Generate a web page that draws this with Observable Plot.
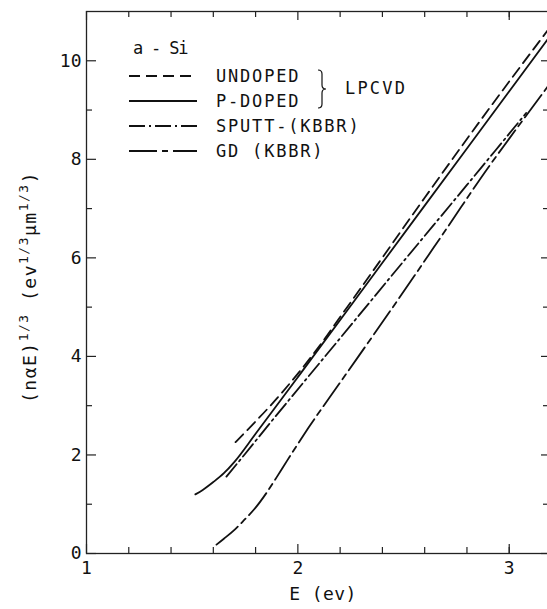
<!DOCTYPE html>
<html>
<head>
<meta charset="utf-8">
<script src="https://cdn.jsdelivr.net/npm/d3@7"></script>
<script src="https://cdn.jsdelivr.net/npm/@observablehq/plot@0.6"></script>
<style>
html, body { margin: 0; padding: 0; background: #fff; overflow: hidden; }
#chart svg { display: block; }
</style>
</head>
<body>
<div id="chart"></div>
<script>
// ---- data ----
const seriesNames = ["UNDOPED", "P-DOPED", "SPUTT-(KBBR)", "GD (KBBR)"];
const groupLabel = "LPCVD";
const materialLabel = "a - Si";

const eUndoped = [1.705, 1.80, 1.87, 2.0, 2.1, 2.2, 2.3, 2.6, 2.9, 3.2];
const vUndoped = [2.26, 2.68, 3.00, 3.65, 4.20, 4.80, 5.40, 7.22, 9.00, 10.72];

const ePdoped = [1.515, 1.55, 1.60, 1.65, 1.70, 1.80, 2.0, 2.4, 2.8, 3.2];
const vPdoped = [1.20, 1.29, 1.45, 1.63, 1.86, 2.43, 3.58, 5.90, 8.22, 10.54];

const eSputt = [1.662, 1.75, 1.85, 1.957, 2.2, 2.5, 2.8, 2.9, 3.0, 3.08];
const vSputt = [1.56, 2.02, 2.55, 3.11, 4.37, 5.93, 7.48, 8.00, 8.52, 8.94];

const eGd = [1.615, 1.65, 1.70, 1.744, 1.80, 1.85, 1.90, 1.95, 2.05, 2.2, 2.477, 2.7, 2.9, 3.0, 3.2];
const vGd = [0.18, 0.30, 0.48, 0.67, 0.93, 1.22, 1.55, 1.89, 2.55, 3.47, 5.17, 6.57, 7.83, 8.42, 9.58];

const xTickLabels = [1, 2, 3];
const xMinorTicks = [1.2, 1.4, 1.6, 1.8, 2.2, 2.4, 2.6, 2.8, 3.0];
const yTickLabels = [0, 2, 4, 6, 8, 10];
const yMinorTicks = [1, 3, 5, 7, 9];

// ---- styles ----
const dashes = ["11,6", null, "16,4,2,4", "28,5,6,5"];
const FONT = "'DejaVu Sans Mono', monospace";
const INK = "#111";

const W = 547, H = 609;
const mL = 86, mR = -4, mT = 11, mB = 56;
const plotW = W - mL - mR, plotH = H - mT - mB;

const series = [
  {name: seriesNames[0], E: eUndoped, V: vUndoped, dash: dashes[0]},
  {name: seriesNames[1], E: ePdoped, V: vPdoped, dash: dashes[1]},
  {name: seriesNames[2], E: eSputt, V: vSputt, dash: dashes[2]},
  {name: seriesNames[3], E: eGd, V: vGd, dash: dashes[3]}
];

const lineMarks = series.map(s =>
  Plot.line(s.E.map((e, i) => ({E: e, V: s.V[i]})), {
    x: "E", y: "V", stroke: INK, strokeWidth: 1.8,
    strokeDasharray: s.dash || undefined, curve: "monotone-x"
  })
);

const tickStyle = {stroke: "#222", strokeWidth: 1.2};

const plot = Plot.plot({
  width: W, height: H,
  marginLeft: mL, marginRight: mR, marginTop: mT, marginBottom: mB,
  style: {fontFamily: FONT, background: "white", color: INK},
  x: {domain: [1, 3.2]},
  y: {domain: [0, 11]},
  marks: [
    Plot.frame({stroke: "#222", strokeWidth: 1.3}),
    // bottom ticks (inward)
    Plot.tickX(xTickLabels, {x: d => d, insetTop: plotH - 9, ...tickStyle}),
    Plot.tickX(xMinorTicks, {x: d => d, insetTop: plotH - 6, ...tickStyle}),
    // top ticks (inward)
    Plot.tickX(xTickLabels, {x: d => d, insetBottom: plotH - 9, ...tickStyle}),
    Plot.tickX(xMinorTicks, {x: d => d, insetBottom: plotH - 6, ...tickStyle}),
    // left ticks (inward)
    Plot.tickY(yTickLabels, {y: d => d, insetRight: plotW - 10, ...tickStyle}),
    Plot.tickY(yMinorTicks, {y: d => d, insetRight: plotW - 6, ...tickStyle}),
    // right ticks (inward)
    Plot.tickY(yTickLabels, {y: d => d, insetLeft: plotW - 10, ...tickStyle}),
    Plot.tickY(yMinorTicks, {y: d => d, insetLeft: plotW - 8, ...tickStyle}),
    Plot.axisX({ticks: xTickLabels, tickSize: 0, tickPadding: 8, fontSize: 18, label: null, tickFormat: d => String(d)}),
    Plot.axisY({ticks: yTickLabels, tickSize: 0, tickPadding: 5, fontSize: 18, label: null, tickFormat: d => String(d)}),
    ...lineMarks
  ]
});

document.getElementById("chart").appendChild(plot);

// ---- annotations: axis titles and in-plot legend ----
const svg = d3.select(plot);
const g = svg.append("g")
  .attr("font-family", FONT)
  .attr("fill", INK)
  .attr("text-anchor", "start");

// x title
g.append("text")
  .attr("x", 323).attr("y", 600)
  .attr("text-anchor", "middle")
  .attr("font-size", 18).attr("letter-spacing", 0.4)
  .text("E (ev)");

// y title with superscripts
const yTitle = g.append("text")
  .attr("transform", "translate(36,287) rotate(-90)")
  .attr("text-anchor", "middle")
  .attr("font-size", 18).attr("letter-spacing", 1.5);
const yParts = [
  ["(nαE)", false], ["1/3", true], [" (ev", false], ["1/3", true], ["μm", false], ["1/3", true], [")", false]
];
let prevSup = false;
yParts.forEach(([t, sup]) => {
  const ts = yTitle.append("tspan").text(t);
  if (sup) ts.attr("font-size", 13).attr("dy", prevSup ? 0 : -8);
  else if (prevSup) ts.attr("dy", 8);
  prevSup = sup;
});

// legend
g.append("text")
  .attr("x", 133).attr("y", 54)
  .attr("font-size", 17).attr("letter-spacing", -1.2)
  .text(materialLabel);

const rowY = [76, 101, 126, 151];
series.forEach((s, i) => {
  g.append("line")
    .attr("x1", 129).attr("x2", 197)
    .attr("y1", rowY[i]).attr("y2", rowY[i])
    .attr("stroke", INK).attr("stroke-width", 1.8)
    .attr("stroke-dasharray", s.dash);
  g.append("text")
    .attr("x", 216).attr("y", rowY[i] + 6)
    .attr("font-size", 17).attr("letter-spacing", 1.8)
    .text(s.name);
});

// brace grouping the two LPCVD entries
const bx = 318, by0 = 70, by1 = 108, bm = (by0 + by1) / 2;
g.append("path")
  .attr("d", `M${bx},${by0} q4,0 4,4 v${bm - by0 - 8} q0,4 4,4 q-4,0 -4,4 v${by1 - bm - 8} q0,4 -4,4`)
  .attr("fill", "none").attr("stroke", INK).attr("stroke-width", 1.2);
g.append("text")
  .attr("x", 345).attr("y", 94)
  .attr("font-size", 17).attr("letter-spacing", 2.2)
  .text(groupLabel);
</script>
</body>
</html>
